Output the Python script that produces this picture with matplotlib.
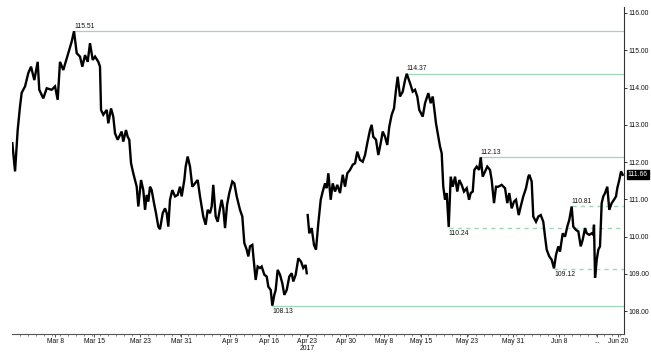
import numpy as np
import matplotlib
matplotlib.use("Agg")
import matplotlib.pyplot as plt
import matplotlib.transforms as mtransforms

plt.rcParams['font.family'] = ['Liberation Sans', 'DejaVu Sans']

# time axis: approx. trading days since 1 Mar 2017
t = [0.04, 0.38, 0.71, 1.0, 1.21, 1.63, 2.04, 2.38, 2.79, 3.21, 3.41, 3.91, 4.34, 4.96, 5.38, 5.71, 6.0, 6.41,
     7.04, 7.46, 7.75, 8.09, 8.5, 8.79, 9.13, 9.46, 9.75, 10.09, 10.38, 10.79, 11.0, 11.13, 11.41, 11.84, 12.04,
     12.38, 12.66, 12.88, 13.21, 13.5, 13.71, 13.91, 14.25, 14.46, 14.66, 14.88, 15.16, 15.38, 15.59, 15.79, 16.13,
     16.41, 16.63, 16.84, 17.04, 17.25, 17.46, 17.75, 18.0, 18.29, 18.5, 18.84, 19.13, 19.34, 19.54, 19.75, 20.04,
     20.38, 20.71, 21.0, 21.21, 21.54, 21.71, 21.96, 22.25, 22.54, 22.88, 23.21, 23.5, 23.91, 24.21, 24.46, 24.75,
     24.96, 25.16, 25.46, 25.71, 26.0, 26.21, 26.41, 26.63, 26.88, 27.16, 27.54, 27.79, 28.09, 28.5, 28.79, 29.04,
     29.34, 29.54, 29.75, 30.04, 30.21, 30.46, 30.71, 31.0, 31.21, 31.54, 31.84, 32.04, 32.34, 32.54, 32.79, 32.96,
     33.21, 33.5, 33.79, 34.04, 34.34, 34.66, 34.96, 35.16, 35.46, 35.79, 36.13, 36.41, 36.71, 36.84, 36.9,
     36.96, 37.16, 37.46, 37.75, 38.0, 38.29, 38.59, 38.84, 39.13, 39.34, 39.54, 39.84, 40.09, 40.38, 40.66, 41.0,
     41.34, 41.63, 41.91, 42.25, 42.59, 42.88, 43.16, 43.5, 43.84, 44.13, 44.41, 44.75, 44.96, 45.16, 45.5, 45.79,
     46.09, 46.34, 46.63, 46.91, 47.16, 47.46, 47.75, 48.0, 48.21, 48.5, 48.84, 49.13, 49.34, 49.75, 50.09, 50.38,
     50.66, 50.91, 51.34, 51.63, 52.04, 52.34, 52.59, 52.75, 53.0, 53.29, 53.5, 53.71, 53.91, 54.13, 54.34, 54.59,
     54.84, 55.09, 55.38, 55.66, 55.91, 56.21, 56.5, 56.84, 57.13, 57.34, 57.59, 57.79, 58.09, 58.38, 58.59, 58.84,
     59.13, 59.41, 59.75, 59.96, 60.25, 60.5, 60.79, 61.21, 61.63, 61.91, 62.16, 62.46, 62.75, 63.0, 63.34, 63.59,
     63.91, 64.25, 64.54, 64.66, 64.96, 65.16, 65.5, 65.79, 66.09, 66.41, 66.63, 66.84, 67.16, 67.46, 67.75, 68.0,
     68.29, 68.5, 68.84, 69.13, 69.41, 69.66, 69.96, 70.16, 70.5, 70.79, 71.09, 71.34, 71.63, 71.84, 72.16, 72.46,
     72.66, 72.75, 72.88, 73.09, 73.29, 73.5, 73.71, 73.91, 74.13, 74.41, 74.66, 74.96, 75.25, 75.5, 75.66, 75.91,
     76.13, 76.34]

price = [112.51, 111.75, 112.86, 113.49, 113.86, 114.03, 114.39, 114.56, 114.20, 114.69, 113.94, 113.71, 113.98,
         113.94, 114.03, 113.67, 114.69, 114.47, 114.92, 115.23, 115.51, 114.92, 114.83, 114.56, 114.87, 114.69,
         115.19, 114.74, 114.83, 114.69, 114.56, 113.40, 113.27, 113.40, 113.04, 113.44, 113.22, 112.77, 112.60,
         112.73, 112.82, 112.55, 112.86, 112.68, 112.60, 111.97, 111.70, 111.52, 111.34, 110.81, 111.52, 111.25,
         110.72, 111.12, 110.94, 111.34, 111.25, 110.90, 110.63, 110.27, 110.20, 110.63, 110.76, 110.63, 110.27,
         110.99, 111.25, 111.08, 111.12, 111.34, 111.08, 111.52, 111.88, 112.15, 111.88, 111.34, 111.43, 111.52,
         111.08, 110.54, 110.32, 110.72, 110.63, 110.81, 111.39, 110.54, 110.40, 110.76, 110.99, 110.76, 110.23,
         110.85, 111.17, 111.48, 111.43, 111.08, 110.72, 110.54, 109.83, 109.65, 109.47, 109.74, 109.78, 109.38,
         108.84, 109.20, 109.16, 109.20, 108.98, 108.93, 108.66, 108.57, 108.15, 108.44, 108.57, 109.11, 108.98,
         108.75, 108.44, 108.57, 108.93, 109.02, 108.80, 108.98, 109.42, 109.33, 109.16, 109.24, 109.02, np.nan,
         110.58, 110.09, 110.23, 109.78, 109.65, 110.36, 110.99, 111.21, 111.43, 111.30, 111.70, 110.99, 111.43,
         111.21, 111.39, 111.17, 111.66, 111.34, 111.70, 111.79, 111.93, 111.97, 112.28, 112.06, 112.01, 112.19,
         112.51, 112.86, 113.00, 112.68, 112.60, 112.19, 112.51, 112.82, 112.68, 112.46, 112.95, 113.27, 113.44,
         113.94, 114.29, 113.76, 113.89, 114.20, 114.37, 114.12, 113.89, 113.94, 113.76, 113.40, 113.22, 113.58,
         113.85, 113.58, 113.76, 113.49, 113.04, 112.68, 112.42, 112.24, 111.34, 110.99, 111.17, 110.26, 111.61,
         111.34, 111.61, 111.21, 111.52, 111.39, 111.21, 111.30, 110.99, 111.17, 111.21, 111.79, 111.88, 111.79,
         112.13, 111.61, 111.75, 111.88, 111.79, 111.52, 110.90, 111.34, 111.34, 111.39, 111.30, 110.90, 111.17,
         110.76, 110.94, 110.99, 110.58, 110.81, 111.08, 111.30, 111.61, 111.66, 111.48, 110.54, 110.40, 110.54,
         110.58, 110.40, 110.00, 109.65, 109.47, 109.38, 109.15, 109.51, 109.74, 109.60, 110.09, 110.00, 110.27,
         110.45, 110.81, 110.27, 110.18, 110.14, 109.74, 109.92, 110.23, 110.09, 110.05, 110.09, 110.05, 110.32,
         108.90, 109.38, 109.65, 109.74, 110.90, 111.08, 111.17, 111.34, 110.72, 110.90, 110.99, 111.08, 111.30,
         111.52, 111.75, 111.66]

# x-axis ticks
tick_pos = [5.38, 10.25, 16.0, 21.13, 27.25, 32.13, 36.88, 41.75, 46.5, 51.13, 56.88, 62.63, 68.38, 73.13, 75.75]
tick_labels = ["Mar 8", "Mar 15", "Mar 23", "Mar 31", "Apr 9", "Apr 16", "Apr 23\n2017", "Apr 30",
               "May 8", "May 15", "May 23", "May 31", "Jun 8", "...", "Jun 20"]
y_ticks = [108, 109, 110, 111, 112, 113, 114, 115, 116]

# support / resistance levels
solid_levels = [115.51, 114.37, 112.13, 108.13]
solid_starts = [7.75, 49.34, 58.59, 32.54]
solid_label_above = [True, True, True, False]
dashed_levels = [110.24, 110.81, 109.12]
dashed_starts = [54.59, 69.96, 67.75]
dashed_label_above = [False, True, False]
last_price = 111.66

W, H = 651, 355
fig = plt.figure(figsize=(W / 100, H / 100), dpi=100)
ax = fig.add_axes([12 / W, 1 - 334 / H, (624 - 12) / W, (334 - 7) / H])

x_max = 76.5
ax.set_xlim(0, x_max)
ax.set_ylim(107.39, 116.16)

level_color = "#9fd6b8"
fs = 4.9
txt_color = "#111111"
for lv, st, above in zip(solid_levels, solid_starts, solid_label_above):
    ax.plot([st, x_max], [lv, lv], color=level_color, lw=0.9, zorder=1)
    ax.annotate(f"{lv:.2f}", (st, lv), xytext=(0, 1.0 if above else -1.3), textcoords="offset points",
                ha="left", va="bottom" if above else "top", fontsize=fs, color=txt_color)
for lv, st, above in zip(dashed_levels, dashed_starts, dashed_label_above):
    ax.plot([st, x_max], [lv, lv], color=level_color, lw=1.0, ls=(0, (3, 3)), zorder=1)
    ax.annotate(f"{lv:.2f}", (st, lv), xytext=(0, 1.0 if above else -1.3), textcoords="offset points",
                ha="left", va="bottom" if above else "top", fontsize=fs, color=txt_color)

ax.plot(t, price, color="black", lw=1.7, solid_joinstyle="miter", zorder=3)

# spines
for s in ["left", "top"]:
    ax.spines[s].set_visible(False)
ax.spines["right"].set_color("#333333")
ax.spines["bottom"].set_color("#555555")
ax.spines["right"].set_linewidth(0.8)
ax.spines["bottom"].set_linewidth(0.8)

ax.yaxis.tick_right()
ax.set_yticks(y_ticks)
ax.set_yticklabels([f"{v:.2f}" for v in y_ticks])
ax.tick_params(axis="y", which="major", direction="out", length=2, width=0.6, pad=1.0,
               labelsize=fs, colors=txt_color)

ax.set_xticks(tick_pos)
ax.set_xticklabels(tick_labels)
ax.set_xticks(np.arange(1, 77, 1.0), minor=True)
ax.tick_params(axis="x", which="major", direction="out", length=2, width=0.5, pad=1.0,
               labelsize=fs, colors=txt_color)
ax.tick_params(axis="x", which="minor", direction="out", length=1.5, width=0.5, colors="#555555")
for lab in ax.get_xticklabels():
    lab.set_linespacing(0.9)

# last price box
trans = mtransforms.blended_transform_factory(ax.transAxes, ax.transData)
ax.text(1.006, last_price, f"{last_price:.2f}", transform=trans, ha="left", va="center",
        fontsize=fs, color="white",
        bbox=dict(boxstyle="square,pad=0.15", fc="black", ec="black"), zorder=5, clip_on=False)

fig.savefig("out.png", dpi=100)
